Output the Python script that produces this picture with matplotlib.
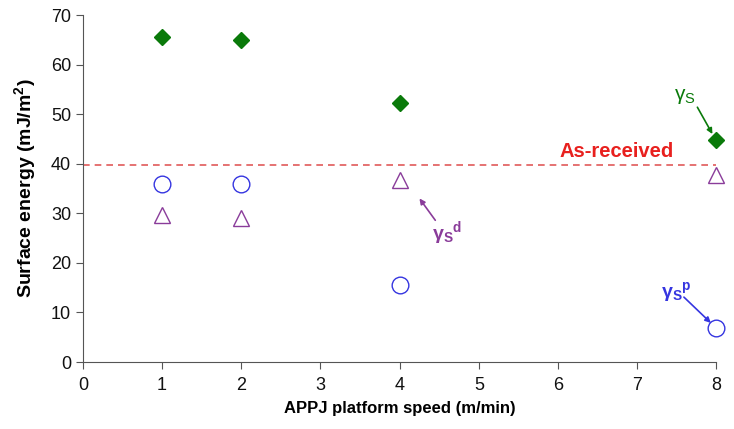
import matplotlib.pyplot as plt

plt.rcParams['font.family'] = ['Liberation Sans', 'DejaVu Sans']

speed = [1, 2, 4, 8]
gamma_s = [65.5, 64.9, 52.3, 44.8]
gamma_d = [29.6, 29.0, 36.7, 37.8]
gamma_p = [35.9, 35.9, 15.6, 6.9]
as_received = 39.8

green = '#0a7a0a'
purple = '#8a3c9a'
blue = '#3535e0'
red = '#e8201e'

fig = plt.figure(figsize=(7.34, 4.29), dpi=100)
ax = fig.add_axes([0.113, 0.156, 0.863, 0.809])

ax.axhline(as_received, color='#e05a5a', linestyle=(0, (4, 3)), linewidth=1.2, zorder=1)
ax.plot(speed, gamma_s, 'D', color=green, markersize=8, linestyle='none',
        zorder=3, clip_on=False)
ax.plot(speed, gamma_d, '^', markerfacecolor='none', markeredgecolor=purple,
        markersize=12, markeredgewidth=1.0, linestyle='none', zorder=3, clip_on=False)
ax.plot(speed, gamma_p, 'o', markerfacecolor='none', markeredgecolor=blue,
        markersize=12, markeredgewidth=1.0, linestyle='none', zorder=3, clip_on=False)

# labels
ax.text(6.74, 40.5, 'As-received', color=red, fontsize=14.5, fontweight='bold',
        ha='center', va='bottom')
ax.text(7.6, 53.6, r'$\mathregular{\gamma_S}$', color=green, fontsize=15,
        ha='center', va='center')
ax.text(4.6, 25.8, r'$\mathregular{\gamma_S}^{\mathregular{d}}$', color=purple,
        fontsize=14, fontweight='bold', ha='center', va='center')
ax.text(7.5, 14.0, r'$\mathregular{\gamma_S}^{\mathregular{p}}$', color=blue,
        fontsize=14, fontweight='bold', ha='center', va='center')

# arrows
arrows = [((7.76, 51.4), (7.95, 46.0), green),
          ((4.45, 28.6), (4.25, 33.0), purple),
          ((7.59, 13.1), (7.93, 7.9), blue)]
for start, end, col in arrows:
    ax.annotate('', xy=end, xytext=start,
                arrowprops=dict(arrowstyle='-|>', color=col, lw=1.2,
                                mutation_scale=8, shrinkA=0, shrinkB=0))

ax.set_xlim(0, 8)
ax.set_ylim(0, 70)
ax.set_xticks(range(0, 9))
ax.set_yticks(range(0, 71, 10))
ax.spines['top'].set_visible(False)
ax.spines['right'].set_visible(False)
for s in ['left', 'bottom']:
    ax.spines[s].set_color('#555555')
ax.tick_params(direction='out', length=5, colors='#555555', labelcolor='#111111',
               labelsize=13)
ax.tick_params(axis='x', pad=6)
ax.set_xlabel('APPJ platform speed (m/min)', fontsize=12, fontweight='bold', labelpad=5)
ax.set_ylabel('Surface energy (mJ/m$\\mathregular{^2}$)', fontsize=14,
              fontweight='bold', labelpad=9)

fig.savefig('out.png', dpi=100)
